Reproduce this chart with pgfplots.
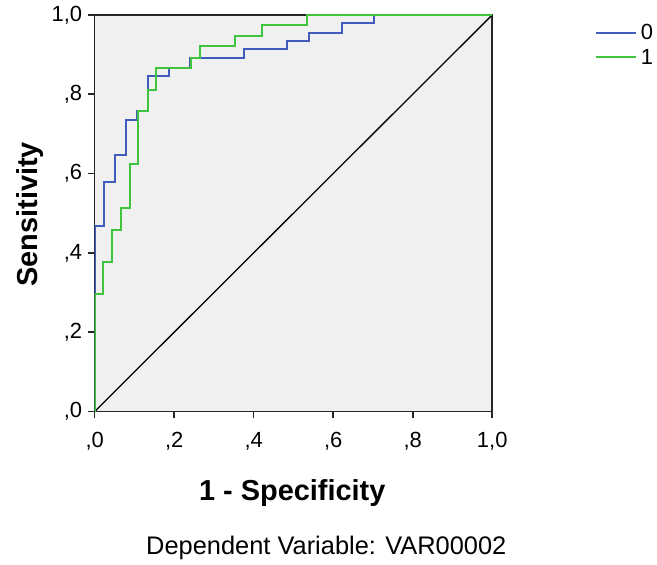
\documentclass[border=0pt]{standalone}
\usepackage{fontspec}
\setmainfont{Liberation Sans}
\usepackage{pgfplots}
\pgfplotsset{compat=1.18}
\definecolor{plotbg}{RGB}{240,240,240}
\definecolor{rocblue}{RGB}{66,92,188}
\definecolor{rocgreen}{RGB}{62,196,62}
\begin{document}
\begin{tikzpicture}
\path (-95pt,-154pt) rectangle (562pt,413pt);
\begin{axis}[
    scale only axis,
    width=399pt, height=398pt,
    xmin=0, xmax=1, ymin=0, ymax=1,
    axis background/.style={fill=plotbg},
    axis line style={line width=1.6pt, black!85},
    xtick={0,0.2,0.4,0.6,0.8,1}, ytick={0,0.2,0.4,0.6,0.8,1},
    xticklabels={{,0},{,2},{,4},{,6},{,8},{1,0}},
    yticklabels={{,0},{,2},{,4},{,6},{,8},{1,0}},
    tick align=outside,
    xtick pos=left, ytick pos=left,
    major tick length=7pt,
    tick style={line width=1.6pt, black!85},
    /pgf/number format/assume math mode=true,
    ticklabel style={font=\fontsize{22}{24}\selectfont},
    xticklabel style={yshift=-10pt},
    yticklabel style={xshift=-2pt},
    xlabel={1 - Specificity}, ylabel={Sensitivity},
    label style={font=\fontsize{29}{32}\selectfont\bfseries},
    xlabel style={at={(rel axis cs:0.497,-0.205)}, anchor=center},
    ylabel style={at={(rel axis cs:-0.163,0.497)}, anchor=center},
    legend image code/.code={\draw[#1] (0pt,0pt) -- (40pt,0pt);},
    legend style={at={(rel axis cs:1.258,0.982)}, anchor=north west, draw=none, fill=none,
        font=\fontsize{22}{24}\selectfont, row sep=4pt, inner sep=0pt,
        nodes={inner xsep=4pt}},
    legend cell align=left,
]
\addplot[black, line width=1.3pt, forget plot] coordinates {(0,0) (1,1)};
\addplot[rocblue, line width=2pt, const plot] coordinates {
    (0,0) (0,0.467) (0.024,0.579) (0.051,0.647) (0.080,0.734) (0.106,0.757)
    (0.134,0.845) (0.187,0.866) (0.241,0.891) (0.376,0.914) (0.485,0.935)
    (0.539,0.955) (0.621,0.979) (0.702,1) (1,1)
};
\addlegendentry{0}
\addplot[rocgreen, line width=2pt, const plot] coordinates {
    (0,0) (0,0.297) (0.020,0.378) (0.043,0.458) (0.067,0.513) (0.088,0.623)
    (0.109,0.759) (0.134,0.811) (0.155,0.865) (0.243,0.892) (0.265,0.921)
    (0.354,0.948) (0.421,0.975) (0.533,1) (1,1)
};
\addlegendentry{1}
\end{axis}
\node[font=\fontsize{25.5}{28}\selectfont] at (232.5pt,-137pt) {Dependent Variable: VAR00002};
\end{tikzpicture}
\end{document}
